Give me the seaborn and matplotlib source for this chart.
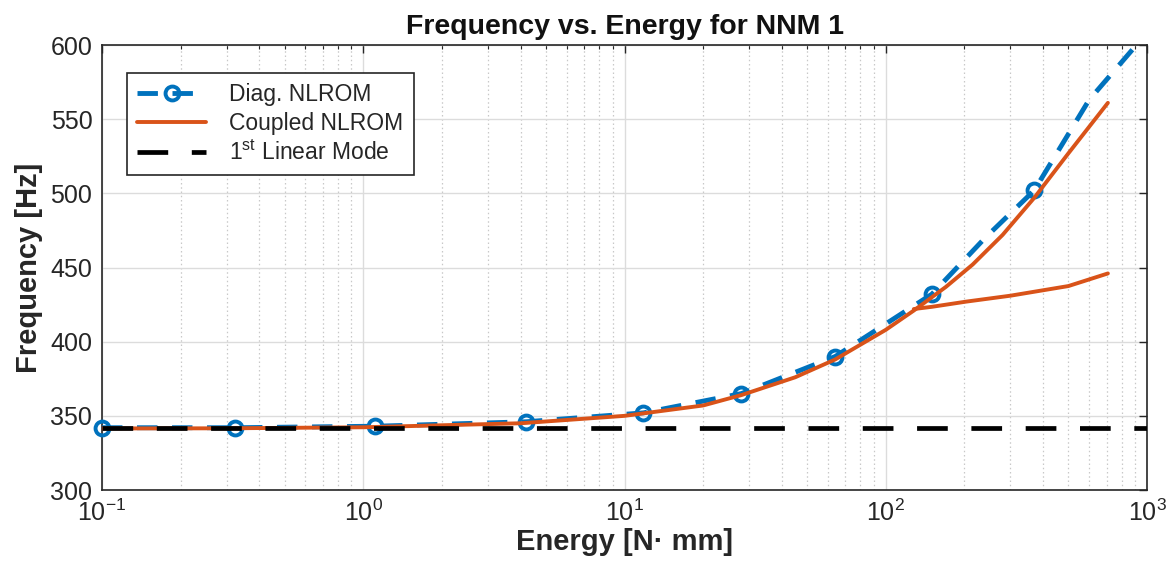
import numpy as np
import pandas as pd
import matplotlib
matplotlib.use("Agg")
import matplotlib.pyplot as plt
import seaborn as sns
from matplotlib.ticker import LogLocator, NullFormatter

# ---- data ----
diag_E = [0.1, 0.324, 1.11, 4.2, 11.8, 28, 64, 150, 370, 100, 240, 600, 890]
diag_F = [342, 342, 343, 346, 352, 365, 390, 432, 502, 412, 470, 563, 598]
diag_marked = 9  # the first nine points carry a circle marker

coupled_E = [0.1, 0.3, 1.0, 4.0, 10, 20, 28, 45, 64, 100, 128, 170, 215, 280, 370, 500, 708]
coupled_F = [341.5, 341.6, 342.3, 345, 350, 357, 364, 376, 388, 408, 421, 437, 452, 472, 497, 527, 561]

branch_E = [128, 150, 203, 300, 500, 708]
branch_F = [422, 423.5, 427, 431, 437.5, 446]

linear_E = [0.1, 1000]
linear_F = [341.5, 341.5]

x_ticks = [0.1, 1, 10, 100, 1000]
x_ticklabels = ["$10^{-1}$", "$10^{0}$", "$10^{1}$", "$10^{2}$", "$10^{3}$"]
y_ticks = [300, 350, 400, 450, 500, 550, 600]

sns.set_theme(style="white")
plt.rcParams['font.family'] = ['Liberation Sans', 'DejaVu Sans']
plt.rcParams['mathtext.fontset'] = 'custom'
plt.rcParams['mathtext.rm'] = 'Liberation Sans'
plt.rcParams['mathtext.it'] = 'Liberation Sans'

blue = '#0072BD'
orange = '#D95319'

fig = plt.figure(figsize=(11.7, 5.83), dpi=100)
ax = fig.add_axes([0.0872, 0.1595, 0.8932, 0.7633])

df_diag = pd.DataFrame({"E": diag_E, "F": diag_F}).sort_values("E")
df_diag["marked"] = [e in diag_E[:diag_marked] for e in df_diag["E"]]
df_coup = pd.DataFrame({"E": coupled_E, "F": coupled_F})
df_br = pd.DataFrame({"E": branch_E, "F": branch_F})
df_lin = pd.DataFrame({"E": linear_E, "F": linear_F})

sns.lineplot(data=df_lin, x="E", y="F", ax=ax, color='black', lw=3.4,
             sort=False, estimator=None, zorder=5)
ll = ax.lines[-1]
ll.set_dashes([6.5, 5.0])

sns.lineplot(data=df_diag, x="E", y="F", ax=ax, color=blue, lw=3.5,
             sort=False, estimator=None, zorder=3)
ld = ax.lines[-1]
ld.set_dashes([4.2, 3.0])
ld.set_marker('o')
ld.set_markersize(10)
ld.set_markerfacecolor('none')
ld.set_markeredgecolor(blue)
ld.set_markeredgewidth(2.8)
ld.set_markevery([i for i, m in enumerate(df_diag["marked"]) if m])
ld.set_clip_on(False)

sns.lineplot(data=df_coup, x="E", y="F", ax=ax, color=orange, lw=2.8,
             sort=False, estimator=None, zorder=4)
lc = ax.lines[-1]
sns.lineplot(data=df_br, x="E", y="F", ax=ax, color=orange, lw=2.8,
             sort=False, estimator=None, zorder=4)

ax.set_xscale('log')
ax.set_xlim(0.1, 1000)
ax.set_ylim(300, 600)
ax.set_xticks(x_ticks)
ax.set_xticklabels(x_ticklabels)
ax.xaxis.set_minor_locator(LogLocator(base=10, subs=np.arange(2, 10)))
ax.xaxis.set_minor_formatter(NullFormatter())
ax.set_yticks(y_ticks)

ax.grid(which='major', color='#dcdcdc', lw=1, ls='-')
ax.grid(which='minor', axis='x', color='#c8c8c8', lw=0.9, ls=(0, (1.2, 2.2)))
ax.set_axisbelow(True)

for s in ax.spines.values():
    s.set_color('#262626')
    s.set_linewidth(1.2)
ax.tick_params(which='major', direction='in', length=6, width=1, color='#262626',
               labelsize=18, labelcolor='#262626', top=True, right=True, pad=7)
ax.tick_params(which='minor', direction='in', length=3, width=0.8, color='#262626',
               top=True, right=True)

ax.set_title("Frequency vs. Energy for NNM 1", fontsize=20.5, fontweight='bold',
             color='#111111', pad=8)
ax.set_xlabel("Energy [N\u00b7 mm]", fontsize=21, fontweight='bold', color='#262626',
              labelpad=1)
ax.set_ylabel("Frequency [Hz]", fontsize=21, fontweight='bold', color='#262626',
              labelpad=5)

handles = [ld, lc, ll]
labels = ["Diag. NLROM", "Coupled NLROM", "1$^{\\mathrm{st}}$ Linear Mode"]
leg = ax.legend(handles, labels, loc='upper left', bbox_to_anchor=(0.024, 0.937),
                borderaxespad=0.0,
                fontsize=16.5, frameon=True, fancybox=False, edgecolor='#262626',
                handlelength=3.0, borderpad=0.45, labelspacing=0.25, handletextpad=1.0)
leg.get_frame().set_linewidth(1.2)
leg.get_frame().set_alpha(1)

fig.savefig("out.png", dpi=100)
